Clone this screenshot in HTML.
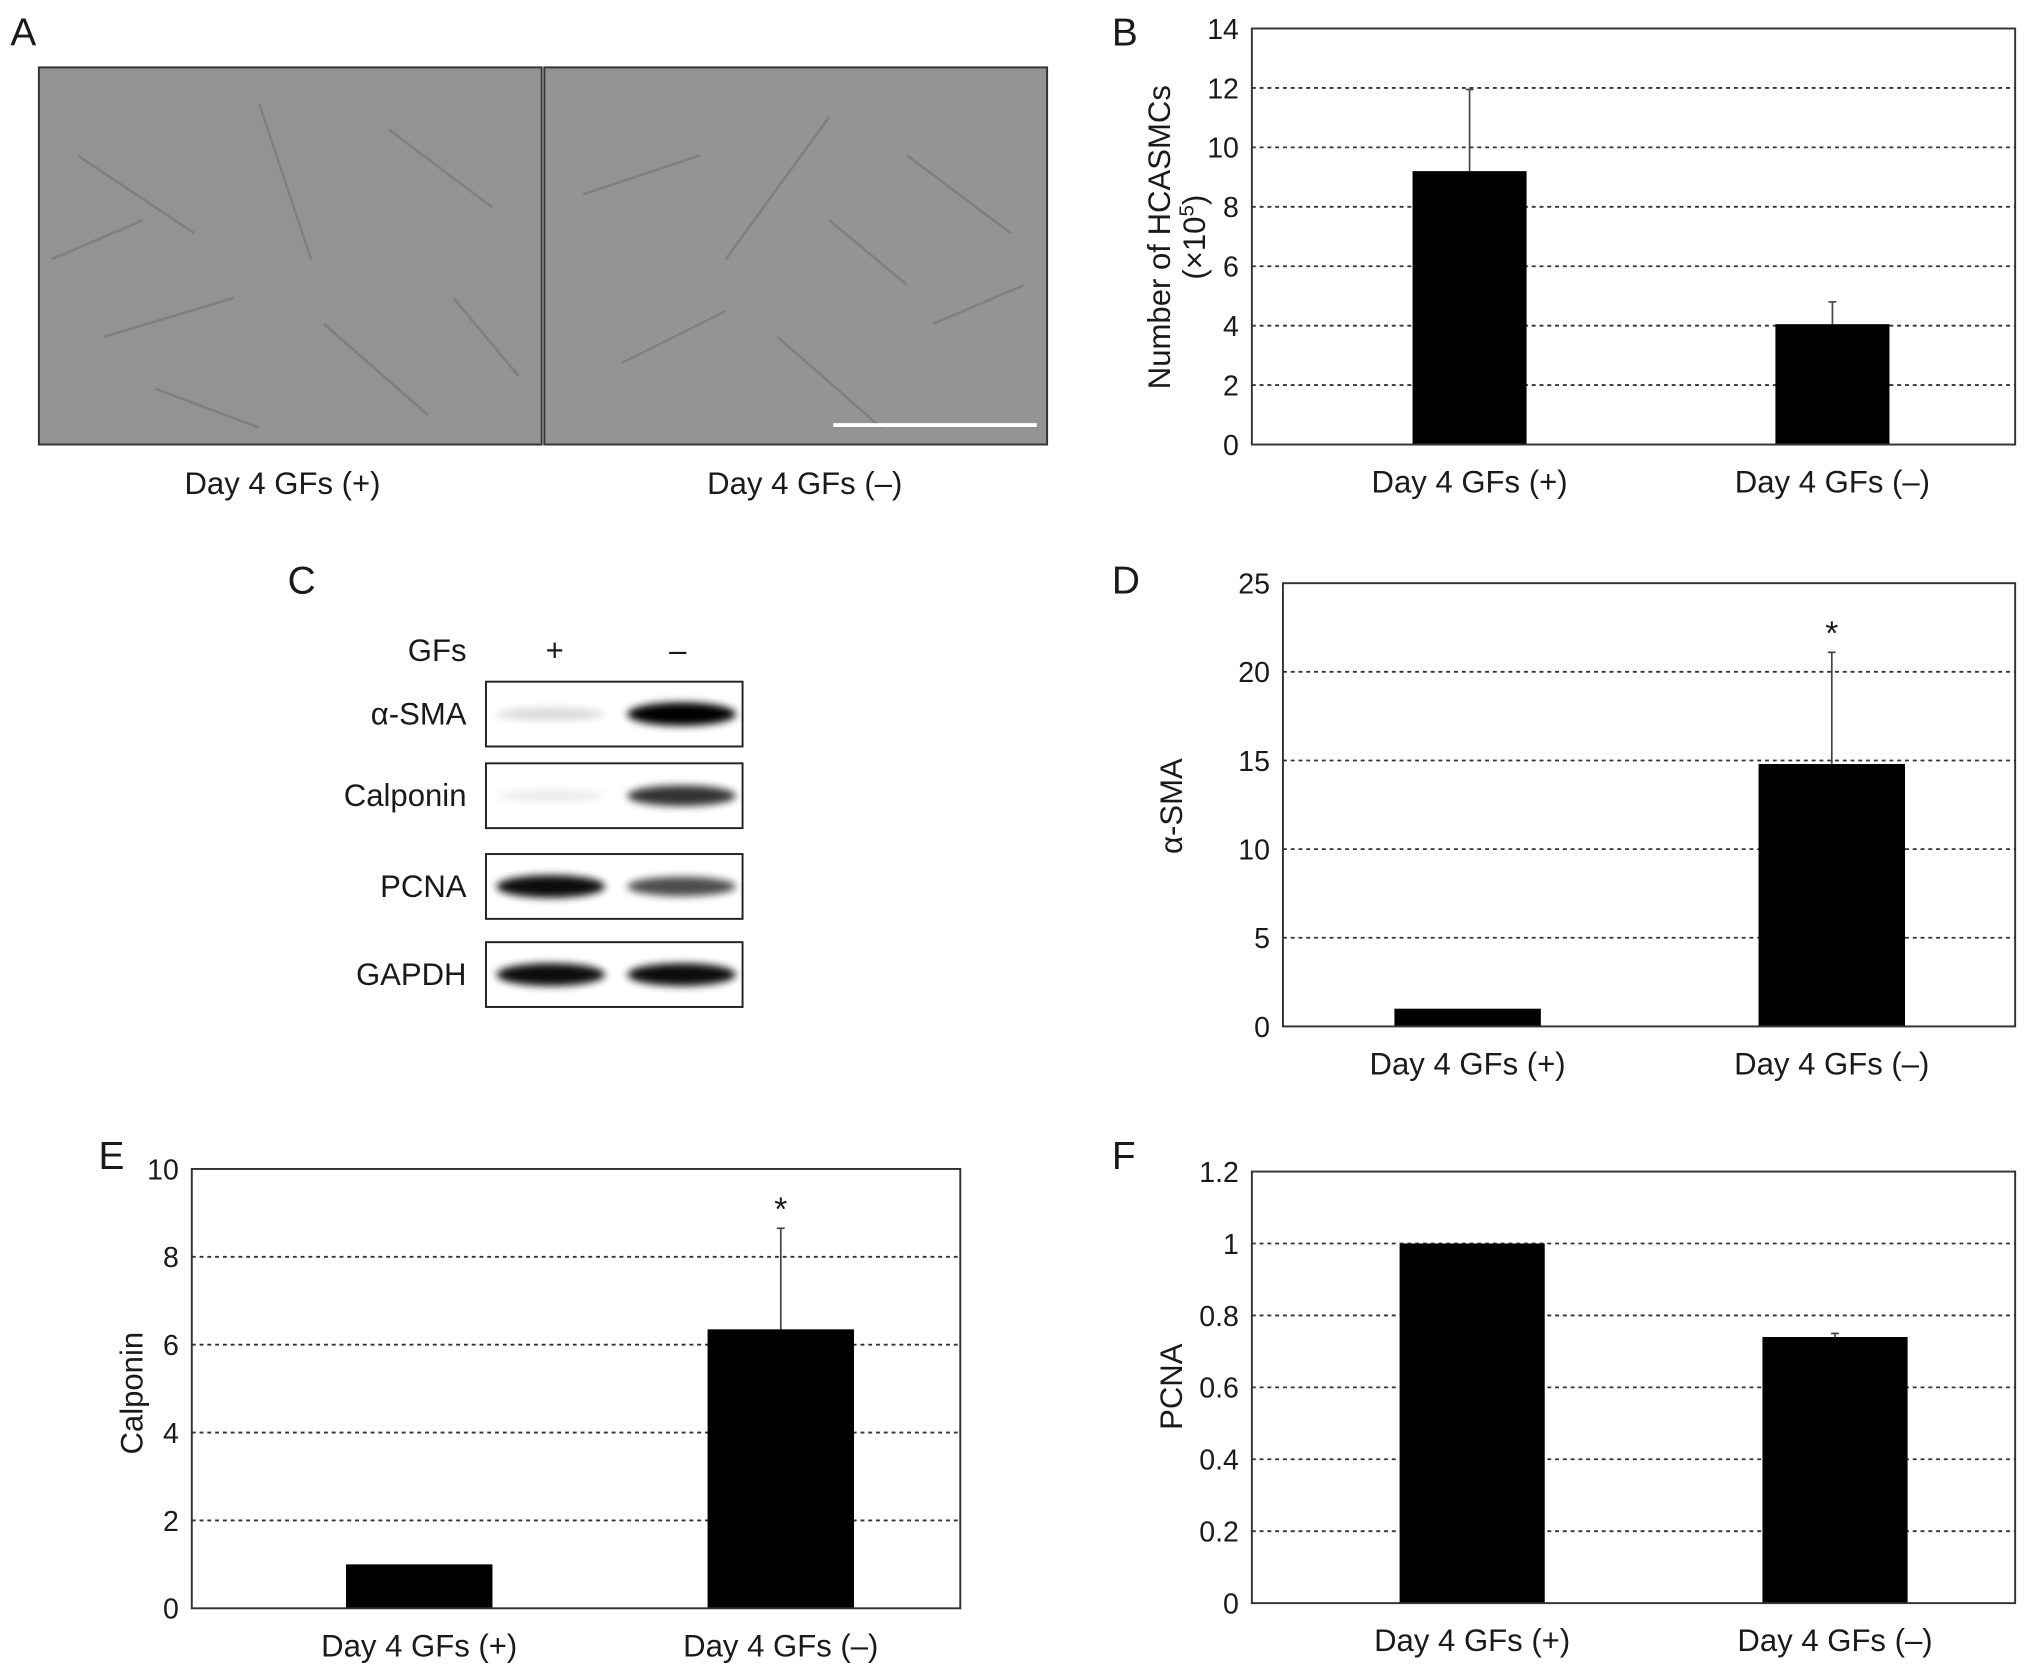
<!DOCTYPE html>
<html><head><meta charset="utf-8"><style>
html,body{margin:0;padding:0;background:#fff}
svg{display:block}
text{font-family:"Liberation Sans",Arial,sans-serif;fill:#1a1a1a}
</style></head><body>
<svg id="fig" width="2032" height="1677" viewBox="0 0 1568 1294" preserveAspectRatio="none" xmlns="http://www.w3.org/2000/svg">
<defs>
<filter id="bl" x="-20%" y="-100%" width="140%" height="300%"><feGaussianBlur stdDeviation="3"/></filter>
</defs>
<!-- Panel A -->
<text x="8" y="35" font-size="30">A</text>
<rect x="30" y="52" width="388" height="291" fill="#939393" stroke="#333" stroke-width="1.5"/>
<rect x="420" y="52" width="388" height="291" fill="#949494" stroke="#333" stroke-width="1.5"/>
<g stroke="#777" stroke-width="2" fill="none" opacity="0.7">
<path d="M60 120 L150 180 M200 80 L240 200 M300 100 L380 160 M80 260 L180 230 M250 250 L330 320 M120 300 L200 330 M350 230 L400 290 M40 200 L110 170"/>
<path d="M450 150 L540 120 M560 200 L640 90 M700 120 L780 180 M480 280 L560 240 M600 260 L680 330 M720 250 L790 220 M640 170 L700 220"/>
</g>
<line x1="643" y1="328" x2="800" y2="328" stroke="#fff" stroke-width="3"/>
<text x="218" y="381" font-size="24" text-anchor="middle">Day 4 GFs (+)</text>
<text x="621" y="381" font-size="24" text-anchor="middle">Day 4 GFs (–)</text>
<!-- Panel C -->
<text x="222" y="458" font-size="30">C</text>
<text x="360" y="510" font-size="24" text-anchor="end">GFs</text>
<text x="428" y="510" font-size="24" text-anchor="middle">+</text>
<text x="523" y="510" font-size="24" text-anchor="middle">–</text>
<g id="blots"></g>
<g id="charts"></g>
</svg>
<script>
// Blot data: band intensities (0..1) for + and − lanes
const blotNames=["α-SMA","Calponin","PCNA","GAPDH"];
const blotPlus=[0.15,0.08,0.95,0.95];
const blotMinus=[1.0,0.8,0.7,0.95];
const blotTops=[526,589,659,727];
const NS="http://www.w3.org/2000/svg";
function mk(tag,attrs,parent,txt){const e=document.createElementNS(NS,tag);for(const k in attrs)e.setAttribute(k,attrs[k]);if(txt!==undefined)e.textContent=txt;parent.appendChild(e);return e;}
const bg=document.getElementById('blots');
blotNames.forEach((n,i)=>{
  const y=blotTops[i];
  const box=mk('rect',{x:375,y:y,width:198,height:50,fill:'#fff',stroke:'#222','stroke-width':1.5},bg);
  
  
  const lab=mk('text',{x:360,y:y+33,'font-size':24,'text-anchor':'end'},bg,n);
  
  
  [[425,blotPlus[i]],[526,blotMinus[i]]].forEach(([cx,v])=>{
    const b=mk('ellipse',{cx:cx,cy:y+25,rx:42,ry:4+5*v,fill:'#000',opacity:v,filter:'url(#bl)'},bg);
    
    
  });
});

// Chart data
const categories=["Day 4 GFs (+)","Day 4 GFs (–)"];
const bValues=[9.2,4.05]; const bErr=[2.75,0.75]; const bTicks=[0,2,4,6,8,10,12,14];
const dValues=[1.0,14.8]; const dErr=[0,6.3]; const dTicks=[0,5,10,15,20,25];
const eValues=[1.0,6.35]; const eErr=[0,2.3]; const eTicks=[0,2,4,6,8,10];
const fValues=[1.0,0.74]; const fErr=[0,0.01]; const fTicks=["0","0.2","0.4","0.6","0.8","1","1.2"];
const dStars=[false,true]; const eStars=[false,true];

const cg=document.getElementById('charts');
function chart(o){
  const g=mk('g',{},cg);
  
  
  const tv=o.ticks.map(Number); const ymax=tv[tv.length-1];
  const y=v=>o.bot-(v/ymax)*(o.bot-o.top);
  const L=mk('text',{x:o.lx,y:o.ly,'font-size':30},g,o.letter);
  
  
  o.ticks.forEach((t,i)=>{
    const yy=y(tv[i]);
    if(i>0&&i<o.ticks.length-1){const gl=mk('line',{x1:o.left,x2:o.right,y1:yy,y2:yy,stroke:'#333','stroke-width':1.4,'stroke-dasharray':'3,3'},g);
      
      }
    const tl=mk('text',{x:o.left-10,y:yy+8,'font-size':22,'text-anchor':'end'},g,String(t));
    
    
  });
  o.values.forEach((v,i)=>{
    const x0=o.bx[i];
    if(o.err[i]>0){const el=mk('line',{x1:x0+o.bw/2,x2:x0+o.bw/2,y1:y(v),y2:y(v+o.err[i]),stroke:'#444','stroke-width':1.3},g);
      
      
      const ec=mk('line',{x1:x0+o.bw/2-3,x2:x0+o.bw/2+3,y1:y(v+o.err[i]),y2:y(v+o.err[i]),stroke:'#444','stroke-width':1.3},g);
      
      }
    const r=mk('rect',{x:x0,y:y(v),width:o.bw,height:o.bot-y(v),fill:'#000'},g);
    
    
    if(o.stars&&o.stars[i]){const s=mk('text',{x:x0+o.bw/2,y:y(v+o.err[i])-6,'font-size':26,'text-anchor':'middle'},g,'*');
      
      }
    const xl=mk('text',{x:x0+o.bw/2,y:o.bot+37,'font-size':24,'text-anchor':'middle'},g,categories[i]);
    
    
  });
  const fr=mk('rect',{x:o.left,y:o.top,width:o.right-o.left,height:o.bot-o.top,fill:'none',stroke:'#333','stroke-width':1.5},g);
  
  
  o.ylab.forEach((t,k)=>{
    const yl=mk('text',{x:0,y:0,'font-size':o.ylfs||24,'text-anchor':'middle',transform:`translate(${o.ylx[k]},${o.lyc}) rotate(-90)`},g);
    yl.innerHTML=t;
    
    
  });
}
chart({id:'b',letter:'B',lx:858,ly:35,left:966,right:1555,top:22,bot:343,ticks:bTicks,values:bValues,err:bErr,bx:[1090,1370],bw:88,ylab:['Number of HCASMCs','(×10<tspan dy="-9" font-size="16">5</tspan><tspan dy="9">)</tspan>'],ylx:[903,930],lyc:183,ylfs:24});
chart({id:'d',letter:'D',lx:858,ly:458,left:990,right:1555,top:450,bot:792,ticks:dTicks,values:dValues,err:dErr,bx:[1076,1357],bw:113,stars:dStars,ylab:['α-SMA'],ylx:[912],lyc:622});
chart({id:'e',letter:'E',lx:76,ly:902,left:148,right:741,top:902,bot:1241,ticks:eTicks,values:eValues,err:eErr,bx:[267,546],bw:113,stars:eStars,ylab:['Calponin'],ylx:[110],lyc:1075});
chart({id:'f',letter:'F',lx:858,ly:902,left:966,right:1555,top:904,bot:1237,ticks:fTicks,values:fValues,err:fErr,bx:[1080,1360],bw:112,ylab:['PCNA'],ylx:[912],lyc:1070});
</script>
</body></html>
